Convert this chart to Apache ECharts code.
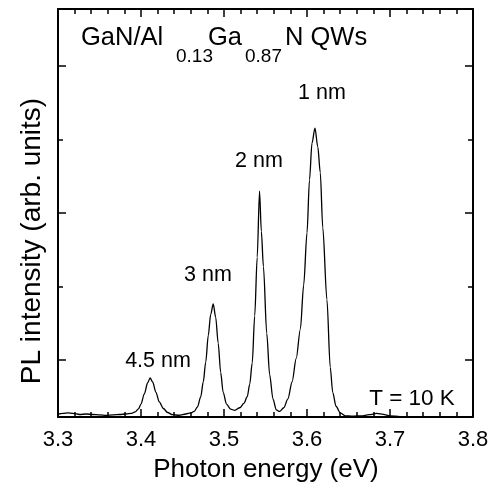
<!DOCTYPE html>
<html>
<head>
<meta charset="utf-8">
<script src="https://cdn.jsdelivr.net/npm/echarts@6/dist/echarts.min.js"></script>
<style>
html,body{margin:0;padding:0;background:#fff;}
#chart{width:492px;height:485px;}
</style>
</head>
<body>
<div id="chart"></div>
<script>
// Photon energy (eV)
const energy = [3.300,3.306,3.312,3.318,3.326,3.334,3.342,3.350,3.358,3.366,3.374,3.382,3.388,3.393,3.397,3.400,3.404,3.408,3.411,3.414,3.418,3.422,3.427,3.432,3.438,3.446,3.454,3.460,3.464,3.468,3.472,3.475,3.478,3.481,3.484,3.487,3.490,3.493,3.496,3.499,3.503,3.508,3.513,3.519,3.524,3.528,3.531,3.534,3.537,3.540,3.5428,3.545,3.5475,3.5515,3.555,3.559,3.563,3.567,3.572,3.577,3.582,3.587,3.592,3.596,3.600,3.603,3.606,3.6096,3.613,3.616,3.619,3.624,3.628,3.631,3.635,3.640,3.646,3.655,3.665,3.675,3.684,3.692,3.700,3.712,3.730,3.750,3.770,3.800];
// PL intensity (arb. units)
const intensity = [-0.735,-0.728,-0.721,-0.728,-0.742,-0.735,-0.742,-0.748,-0.755,-0.748,-0.742,-0.735,-0.728,-0.707,-0.665,-0.600,-0.460,-0.310,-0.245,-0.300,-0.440,-0.570,-0.660,-0.715,-0.745,-0.752,-0.735,-0.721,-0.700,-0.640,-0.500,-0.300,-0.030,0.330,0.620,0.762,0.580,0.230,-0.170,-0.440,-0.600,-0.670,-0.685,-0.650,-0.590,-0.500,-0.330,-0.040,0.600,1.400,2.299,1.750,1.270,0.363,-0.200,-0.530,-0.680,-0.700,-0.650,-0.530,-0.300,0.020,0.420,1.020,1.728,2.450,2.950,3.156,2.900,2.550,1.800,0.820,-0.100,-0.440,-0.630,-0.720,-0.760,-0.765,-0.760,-0.745,-0.728,-0.740,-0.760,-0.770,-0.770,-0.770,-0.770,-0.770];
const xRange = [3.3, 3.8];
const yRange = [-0.776, 4.776];
const peakLabels = ['4.5 nm', '3 nm', '2 nm', '1 nm'];
const titleParts = ['GaN/Al', '0.13', 'Ga', '0.87', 'N QWs'];
const tempLabel = 'T = 10 K';
const xName = 'Photon energy (eV)';
const yName = 'PL intensity (arb. units)';

const FONT = '"Liberation Sans", Arial, Helvetica, sans-serif';
const chart = echarts.init(document.getElementById('chart'), null, {renderer: 'canvas'});

function yAx(pos, split, len, showLine) {
  return {
    type: 'value', position: pos, min: yRange[0], max: yRange[1], splitNumber: split,
    axisLine: {show: showLine, lineStyle: {color: '#000', width: 2}},
    axisTick: {show: true, inside: true, length: len, lineStyle: {color: '#000', width: 1.5}},
    axisLabel: {show: false}, splitLine: {show: false}
  };
}
function xAx(pos, showLabel) {
  return {
    type: 'value', position: pos, min: xRange[0], max: xRange[1], interval: 0.1,
    axisLine: {show: true, onZero: false, lineStyle: {color: '#000', width: 2}},
    axisTick: {show: true, inside: true, length: 8, lineStyle: {color: '#000', width: 1.5}},
    minorTick: {show: true, splitNumber: 5, length: 5, lineStyle: {color: '#000', width: 1.5}},
    axisLabel: {show: showLabel, margin: 12, fontSize: 22, color: '#000', fontFamily: FONT,
      formatter: v => v.toFixed(1)},
    splitLine: {show: false}
  };
}

const text = (t, x, y, fs, align) => ({
  type: 'text', x: x, y: y,
  style: {text: t, fontSize: fs, fontFamily: FONT, fill: '#000', textAlign: align || 'center', textVerticalAlign: 'middle'}
});

chart.setOption({
  animation: false,
  backgroundColor: '#fff',
  grid: {left: 58, right: 19, top: 9, bottom: 68},
  xAxis: [xAx('bottom', true), xAx('top', false)],
  yAxis: [yAx('left', 3, 8, true), yAx('left', 5, 5, false), yAx('right', 3, 8, true), yAx('right', 5, 5, false)],
  series: [{
    type: 'line',
    data: energy.map((e, i) => [e, intensity[i]]),
    showSymbol: false, smooth: 0.3, smoothMonotone: 'x',
    lineStyle: {color: '#000', width: 1.3},
    xAxisIndex: 0, yAxisIndex: 0
  }],
  graphic: [
    text(titleParts[0], 81, 38, 25.5, 'left'),
    text(titleParts[1], 176, 57, 19, 'left'),
    text(titleParts[2], 208, 38, 25.5, 'left'),
    text(titleParts[3], 245, 57, 19, 'left'),
    text(titleParts[4], 285, 38, 25.5, 'left'),
    text(peakLabels[0], 158, 361, 21.5),
    text(peakLabels[1], 208, 275, 21.5),
    text(peakLabels[2], 259, 161, 21.5),
    text(peakLabels[3], 322, 93, 21.5),
    text(tempLabel, 412, 399, 22.5),
    text(xName, 266, 470, 26),
    Object.assign(text(yName, 0, 0, 28), {x: 32, y: 241, rotation: Math.PI / 2})
  ]
});
</script>
</body>
</html>
